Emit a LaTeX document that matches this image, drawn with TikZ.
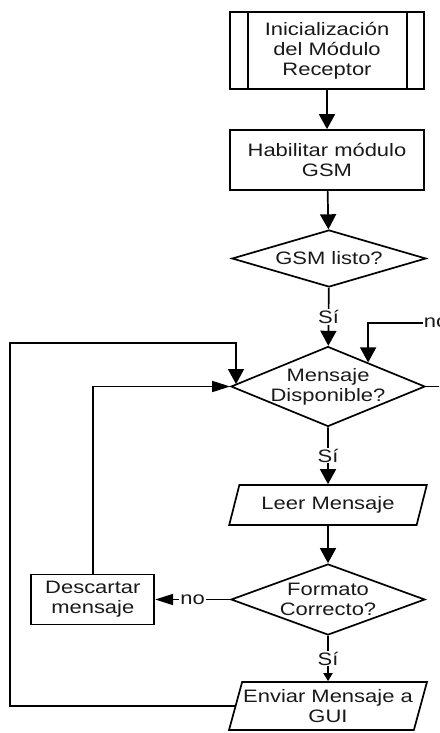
\documentclass[tikz,border=0pt]{standalone}
\usepackage{fontspec}
\setmainfont[FakeStretch=1.22]{Liberation Sans}
\usetikzlibrary{arrows.meta,positioning,calc,shapes.geometric}

\begin{document}
\begin{tikzpicture}[x=1pt,y=-1pt,line width=1.7pt,
  >={Triangle[length=15pt,width=16pt]},
  block/.style={rectangle,draw,minimum width=194pt,inner sep=2pt,align=center,
                text=black!90,font=\fontsize{18}{20}\selectfont},
  decision/.style={diamond,draw,aspect=3,minimum width=194pt,inner xsep=-20pt,inner ysep=-8pt,
                   align=center,text=black!90,font=\fontsize{18}{20}\selectfont},
  io/.style={trapezium,trapezium left angle=72,trapezium right angle=108,
             trapezium stretches=true,draw,minimum width=198pt,inner xsep=0pt,
             align=center,text=black!90,font=\fontsize{18}{20}\selectfont},
  lbl/.style={fill=white,inner sep=1pt,text=black!90,font=\fontsize{18}{20}\selectfont},
  harr/.style={-{Triangle[length=18pt,width=11pt]}}]
\clip (0,0) rectangle (439,733);
% main column
\node[block,minimum height=77pt] (init) at (327,50.5) {Inicialización\\del Módulo\\Receptor};
\draw ([xshift=19pt]init.north west) -- ([xshift=19pt]init.south west);
\draw ([xshift=-18pt]init.north east) -- ([xshift=-18pt]init.south east);
\node[block,minimum height=60pt] (hab) at (327,160) {Habilitar módulo\\GSM};
\node[decision,minimum height=57pt] (gsm) at (329,258.5) {GSM listo?};
\node[decision,minimum height=80pt] (disp) at (328,386.5) {Mensaje\\Disponible?};
\node[io,minimum height=40pt] (leer) at (328,505) {Leer Mensaje};
\node[decision,minimum height=71pt] (fmt) at (328,599.5) {Formato\\Correcto?};
\node[io,minimum height=48pt] (env) at (328,706) {Enviar Mensaje a\\GUI};
\node[block,minimum width=123pt,minimum height=50pt,left=75pt of fmt] (desc) {Descartar\\mensaje};
% loop points
\coordinate (loopA) at (10,343);
\coordinate (loopB) at (460,323);
\coordinate (dispin) at ($(disp.west)!0.06!(disp.north)$);
\coordinate (dispnin) at ($(disp.north)!0.41!(disp.east)$);
% connectors
\draw[->] (init) -- (hab);
\draw[->] (hab) -- (gsm);
\draw[->] (gsm) -- node[lbl]{Sí} (disp);
\draw[->] (disp) -- node[lbl]{Sí} (leer);
\draw[->] (leer) -- (fmt);
\draw[-{Triangle[length=8pt,width=9pt]}] (fmt) -- node[lbl]{Sí} (env);
\draw[harr] (fmt) -- node[lbl]{no} (desc);
\draw[harr] (desc) |- (disp);
\draw[->] (env.west) -| (loopA) -| (dispin);
\draw[->] (disp.east) -| (loopB) -- node[lbl,pos=0.26]{no} (loopB -| dispnin) -- (dispnin);
\end{tikzpicture}
\end{document}
